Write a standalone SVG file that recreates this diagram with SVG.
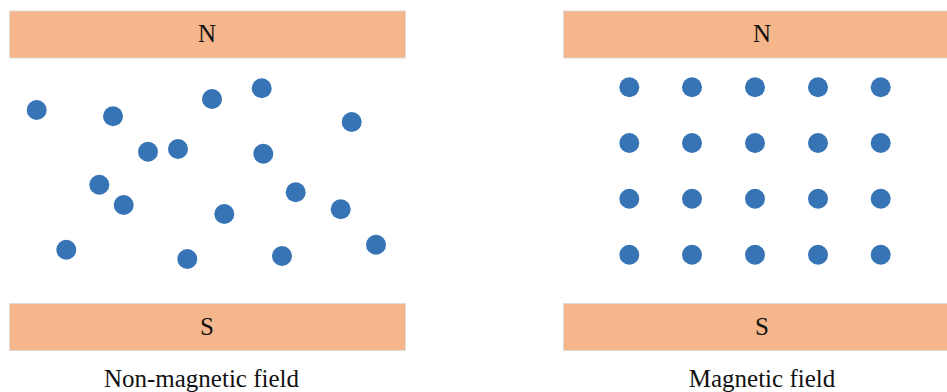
<svg xmlns="http://www.w3.org/2000/svg" width="947" height="392" viewBox="0 0 947 392">
<style>
.bar{fill:#F4B68A;stroke:#DEDAD6;stroke-width:1}
text{font-family:'Liberation Serif','Times New Roman',serif;font-size:25px;fill:#111;text-anchor:middle}
.p{fill:#3674B6}
</style>
<rect width="947" height="392" fill="#fff"/>
<g id="left-N"><rect class="bar" x="9.5" y="11" width="396" height="47"/><text x="207" y="42">N</text></g>
<g id="left-S"><rect class="bar" x="9.5" y="303.5" width="396" height="47"/><text x="207" y="335">S</text></g>
<g id="right-N"><rect class="bar" x="563.5" y="11" width="400" height="47"/><text x="762" y="42">N</text></g>
<g id="right-S"><rect class="bar" x="563.5" y="303.5" width="400" height="47"/><text x="762" y="335">S</text></g>
<g id="left-particles">
<circle class="p" cx="36.7" cy="110" r="10"/>
<circle class="p" cx="113" cy="116.3" r="10"/>
<circle class="p" cx="212" cy="99" r="10"/>
<circle class="p" cx="261.7" cy="88.3" r="10"/>
<circle class="p" cx="351.7" cy="122" r="10"/>
<circle class="p" cx="148" cy="151.7" r="10"/>
<circle class="p" cx="178" cy="149" r="10"/>
<circle class="p" cx="263.3" cy="153.7" r="10"/>
<circle class="p" cx="99.3" cy="184.7" r="10"/>
<circle class="p" cx="123.7" cy="205" r="10"/>
<circle class="p" cx="295.7" cy="192.3" r="10"/>
<circle class="p" cx="340.7" cy="209.3" r="10"/>
<circle class="p" cx="224.3" cy="214" r="10"/>
<circle class="p" cx="66.3" cy="249.7" r="10"/>
<circle class="p" cx="187.3" cy="259" r="10"/>
<circle class="p" cx="282" cy="256" r="10"/>
<circle class="p" cx="376" cy="244.7" r="10"/>
</g>
<g id="right-particles">
<circle class="p" cx="629.3" cy="87.3" r="10"/><circle class="p" cx="692" cy="87.3" r="10"/><circle class="p" cx="755" cy="87.3" r="10"/><circle class="p" cx="818" cy="87.3" r="10"/><circle class="p" cx="880.7" cy="87.3" r="10"/>
<circle class="p" cx="629.3" cy="143" r="10"/><circle class="p" cx="692" cy="143" r="10"/><circle class="p" cx="755" cy="143" r="10"/><circle class="p" cx="818" cy="143" r="10"/><circle class="p" cx="880.7" cy="143" r="10"/>
<circle class="p" cx="629.3" cy="198.7" r="10"/><circle class="p" cx="692" cy="198.7" r="10"/><circle class="p" cx="755" cy="198.7" r="10"/><circle class="p" cx="818" cy="198.7" r="10"/><circle class="p" cx="880.7" cy="198.7" r="10"/>
<circle class="p" cx="629.3" cy="254.7" r="10"/><circle class="p" cx="692" cy="254.7" r="10"/><circle class="p" cx="755" cy="254.7" r="10"/><circle class="p" cx="818" cy="254.7" r="10"/><circle class="p" cx="880.7" cy="254.7" r="10"/>
</g>
<g id="connectors"></g>
<g id="captions">
<text x="201.5" y="387">Non-magnetic field</text>
<text x="762" y="387">Magnetic field</text>
</g>
</svg>
